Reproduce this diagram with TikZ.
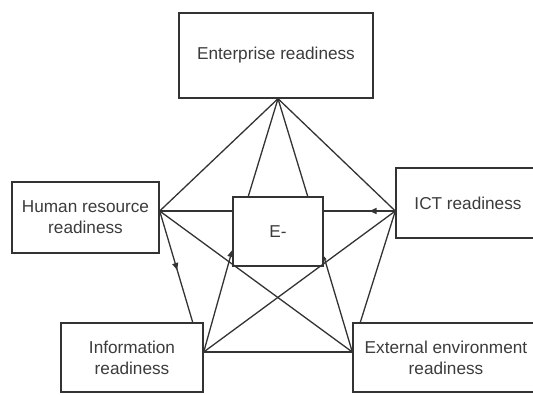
\documentclass[tikz,border=0pt]{standalone}
\usepackage{fontspec}
\setmainfont{Liberation Sans}
\usetikzlibrary{arrows.meta,decorations.markings}
\definecolor{ln}{HTML}{333333}
\definecolor{tx}{HTML}{3C3C3C}
\begin{document}
\begin{tikzpicture}[x=1pt,y=-1pt,
  box/.style={draw=ln,line width=1.4pt,text=tx,font=\fontsize{17.2}{21}\selectfont,align=center,inner sep=0pt},
  conn/.style={draw=ln,line width=1.3pt},
  midarrow/.style={postaction={decorate},decoration={markings,mark=at position #1 with {\arrow{Triangle[length=7pt,width=6pt]}}}},
  endarrow/.style={-{Triangle[length=7pt,width=6pt]}},
]
\clip (0,0) rectangle (533,394);
\fill[white] (0,0) rectangle (533,394);
% boxes
\node[box,minimum width=194pt,minimum height=85pt] (ent) at (276,55.5) {Enterprise readiness};
\node[box,minimum width=147pt,minimum height=71pt] (hr) at (85.5,217.5) {Human resource\\readiness};
\node[box,minimum width=90pt,minimum height=69pt] (em) at (278,231.5) {E-};
\node[box,minimum width=144pt,minimum height=70pt] (ict) at (468,203) {ICT readiness};
\node[box,minimum width=142pt,minimum height=69pt] (info) at (132,357.5) {Information\\readiness};
\node[box,minimum width=186pt,minimum height=69pt] (ext) at (446,357.5) {External environment\\readiness};
% connection points
\coordinate (A) at ([xshift=2pt]ent.south);
\coordinate (H) at ([yshift=6.5pt]hr.east);
\coordinate (I) at ([yshift=-8pt]ict.west);
\coordinate (F) at ([yshift=5.5pt]info.east);
\coordinate (X) at ([yshift=5.5pt]ext.west);
\coordinate (ET1) at ([xshift=16pt]em.north west);
\coordinate (ET2) at ([xshift=-16pt]em.north east);
\coordinate (EL) at ([yshift=-18.5pt]em.west);
\coordinate (ER) at ([yshift=-24.5pt]em.east);
\coordinate (IT) at ([xshift=-11pt]info.north east);
\coordinate (XT) at ([xshift=8pt]ext.north west);
% connectors
\draw[conn] (A) -- (H);
\draw[conn] (A) -- (I);
\draw[conn] (A) -- (ET1);
\draw[conn] (A) -- (ET2);
\draw[conn] (H) -- (H -| em.west);
\draw[conn,midarrow=0.36] (I) -- (I -| em.east);
\draw[conn] (H) -- (X);
\draw[conn] (I) -- (F);
\draw[conn] (F) -- (X);
\draw[conn,midarrow=0.53] (H) -- (IT);
\draw[conn] (I) -- (XT);
\draw[conn,endarrow] (F) -- (EL);
\draw[conn,-{Triangle[length=4pt,width=3.5pt]}] (X) -- (ER);
\end{tikzpicture}
\end{document}
